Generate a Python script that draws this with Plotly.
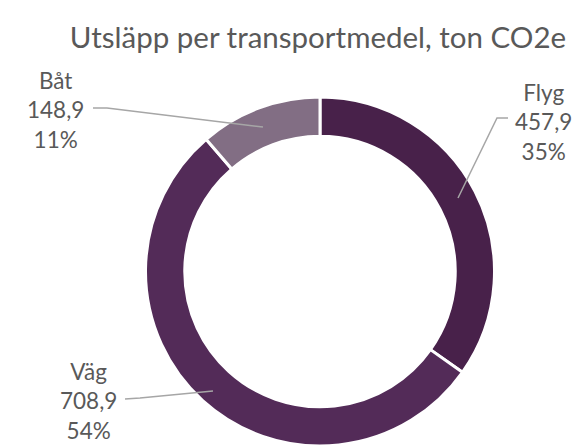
import plotly.graph_objects as go

categories = ["Flyg", "Väg", "Båt"]
values = [457.9, 708.9, 148.9]
colors = ["#48214a", "#532b58", "#826e84"]
title_text = "Utsläpp per transportmedel, ton CO2e"

W, H = 577, 446
total = sum(values)

def fmt(v):
    return f"{v:.1f}".replace(".", ",")

fig = go.Figure(go.Pie(
    labels=categories, values=values, hole=0.775, sort=False,
    direction="clockwise", rotation=0,
    marker=dict(colors=colors, line=dict(color="white", width=3)),
    textinfo="none", hoverinfo="label+value+percent",
    domain=dict(x=[(320 - 174.5) / W, (320 + 174.5) / W], y=[0, 349 / H]),
    showlegend=False,
))

# label anchor positions (pixel layout of the label blocks) and leader paths
label_pos = {"Flyg": (543, 122), "Väg": (88, 401), "Båt": (55, 110)}
leaders = {
    "Flyg": [(508, 118), (497, 118), (458, 198)],
    "Väg": [(125, 399), (140, 398), (213, 391)],
    "Båt": [(93, 108), (107, 108), (263, 127)],
}

def px(x, y):
    return x / W, 1 - y / H

annotations = []
shapes = []
for c, v in zip(categories, values):
    pct = round(100 * v / total)
    x, y = px(*label_pos[c])
    annotations.append(dict(
        x=x, y=y, xref="paper", yref="paper", showarrow=False,
        text=f"{c}<br>{fmt(v)}<br>{pct}%", align="center",
        xanchor="center", yanchor="middle",
        font=dict(family="Lato", size=22.5, color="#595959"),
    ))
    pts = [px(a, b) for a, b in leaders[c]]
    path = "M " + " L ".join(f"{a},{b}" for a, b in pts)
    shapes.append(dict(type="path", path=path, xref="paper", yref="paper",
                       line=dict(color="#a6a6a6", width=1.5)))

fig.update_layout(
    width=W, height=H, margin=dict(l=0, r=0, t=0, b=0),
    paper_bgcolor="white", plot_bgcolor="white",
    title=dict(text=title_text, x=318 / W, xanchor="center", y=1 - 38 / H, yanchor="middle",
               font=dict(family="Lato", size=29.5, color="#595959")),
    annotations=annotations, shapes=shapes,
)

fig.write_html("out.html", config={"displayModeBar": False},
               post_script="document.body.style.margin='0';")
